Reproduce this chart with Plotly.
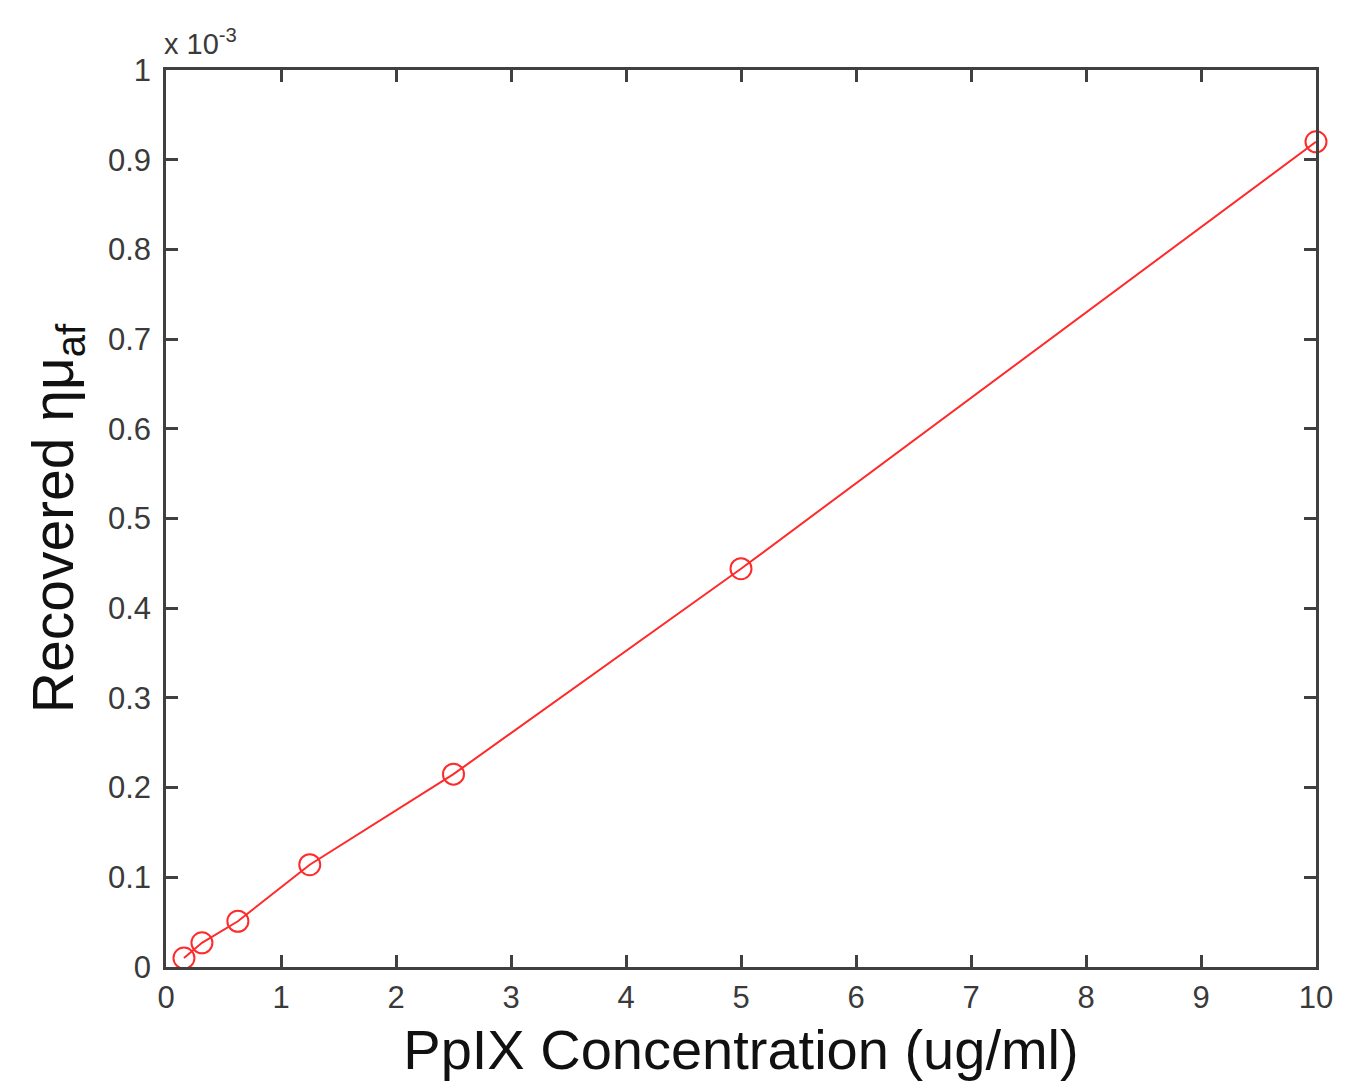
import plotly.graph_objects as go

concentration = [0.15625, 0.3125, 0.625, 1.25, 2.5, 5, 10]
recovered_e3 = [0.010, 0.027, 0.051, 0.114, 0.215, 0.444, 0.920]  # in units of 1e-3
x_ticks = list(range(0, 11))
y_ticks = [0, 0.1, 0.2, 0.3, 0.4, 0.5, 0.6, 0.7, 0.8, 0.9, 1]
y_tick_labels = ["0", "0.1", "0.2", "0.3", "0.4", "0.5", "0.6", "0.7", "0.8", "0.9", "1"]

FONT = "Liberation Sans, Arial, Helvetica"

fig = go.Figure()
fig.add_trace(go.Scatter(
    x=concentration, y=recovered_e3, mode="lines+markers",
    line=dict(color="#ff2a2a", width=2),
    marker=dict(symbol="circle-open", size=21, color="#ff2a2a", line=dict(width=2)),
    showlegend=False, cliponaxis=False,
))

axis_common = dict(
    showline=True, linecolor="#404040", linewidth=2.5, mirror="ticks",
    ticks="inside", ticklen=12, tickwidth=2.5, tickcolor="#404040",
    showgrid=False, zeroline=False,
    tickfont=dict(family=FONT, size=31, color="#3a3a3a"),
)

fig.update_layout(
    width=1343, height=1082,
    margin=dict(l=158, r=35, t=62, b=123),
    paper_bgcolor="white", plot_bgcolor="white",
    xaxis=dict(range=[0, 10], tickvals=x_ticks, ticklabelstandoff=1, **axis_common,
               title=dict(text="PpIX Concentration (ug/ml)",
                          font=dict(family=FONT, size=56, color="#111"),
                          standoff=16)),
    yaxis=dict(range=[0, 1], tickvals=y_ticks, ticktext=y_tick_labels, ticklabelstandoff=6,
               **axis_common,
               title=dict(text="Recovered ημ<sub>af</sub>",
                          font=dict(family=FONT, size=57, color="#111"),
                          standoff=16)),
    annotations=[dict(text="x 10<sup>-3</sup>", xref="paper", yref="paper",
                      x=0, y=1, xanchor="left", yanchor="bottom", yshift=8, xshift=-4,
                      showarrow=False,
                      font=dict(family=FONT, size=29, color="#3a3a3a"))],
)

fig.write_html("out.html")
